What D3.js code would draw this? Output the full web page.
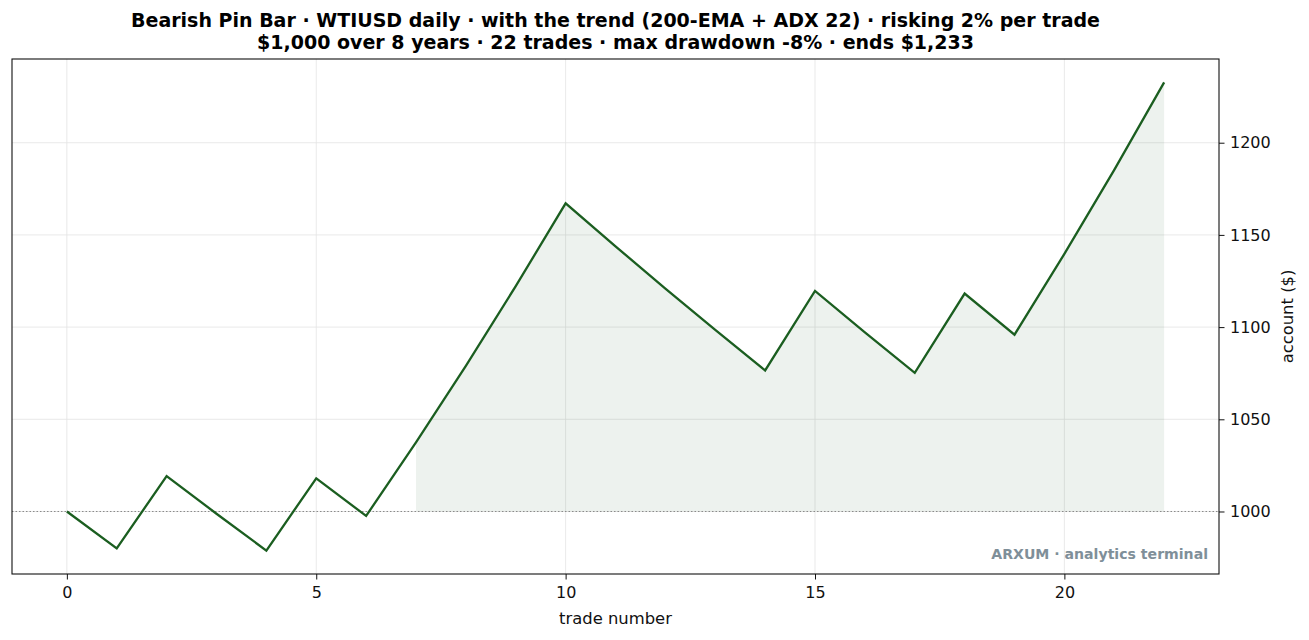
<!DOCTYPE html>
<html>
<head>
<meta charset="utf-8">
<script src="https://cdn.jsdelivr.net/npm/d3@7"></script>
<style>
  html, body { margin: 0; padding: 0; background: #fff; }
  svg { display: block; font-family: "DejaVu Sans", sans-serif; }
</style>
</head>
<body>
<svg id="chart" width="1309" height="640"></svg>
<script>
// account value after each trade
const trades = d3.range(0, 23);
const equity = [
  1000, 980.0, 1019.2, 998.8, 978.8, 1018.0, 997.6, 1037.5, 1079.0, 1122.2,
  1167.1, 1143.8, 1120.9, 1098.5, 1076.5, 1119.6, 1097.2, 1075.2, 1118.2,
  1095.9, 1139.7, 1185.3, 1232.7,
];
const startBalance = 1000;
const xTicks = [0, 5, 10, 15, 20];
const yTicks = [1000, 1050, 1100, 1150, 1200];
const titleLines = [
  'Bearish Pin Bar · WTIUSD daily · with the trend (200-EMA + ADX 22) · risking 2% per trade',
  '$1,000 over 8 years · 22 trades · max drawdown -8% · ends $1,233',
];

const lineColor = '#1b5e20';

// plot box
const margin = { top: 59, right: 90, bottom: 66, left: 12 };
const width = 1309 - margin.left - margin.right;
const height = 640 - margin.top - margin.bottom;

const svg = d3.select('#chart');

// matplotlib style 5% padding
const xPad = (d3.max(trades) - d3.min(trades)) * 0.05;
const [yMin, yMax] = d3.extent(equity);
const yPad = (yMax - yMin) * 0.05;

const x = d3.scaleLinear()
  .domain([d3.min(trades) - xPad, d3.max(trades) + xPad])
  .range([0, width]);
const y = d3.scaleLinear()
  .domain([yMin - yPad, yMax + yPad])
  .range([height, 0]);

const g = svg.append('g')
  .attr('transform', `translate(${margin.left},${margin.top})`);

// grid
g.append('g')
  .selectAll('line')
  .data(xTicks)
  .enter()
  .append('line')
  .attr('x1', (d) => x(d))
  .attr('x2', (d) => x(d))
  .attr('y1', 0)
  .attr('y2', height)
  .attr('stroke', '#e3e3e3')
  .attr('stroke-width', 0.8);

g.append('g')
  .selectAll('line')
  .data(yTicks)
  .enter()
  .append('line')
  .attr('x1', 0)
  .attr('x2', width)
  .attr('y1', (d) => y(d))
  .attr('y2', (d) => y(d))
  .attr('stroke', '#e3e3e3')
  .attr('stroke-width', 0.8);

// fill above start balance, only runs of 2+ points (like fill_between where=)
const points = trades.map((t, i) => ({ t, v: equity[i] }));
const runs = [];
let cur = [];
points.forEach((p) => {
  if (p.v > startBalance) {
    cur.push(p);
  } else {
    if (cur.length > 1) runs.push(cur);
    cur = [];
  }
});
if (cur.length > 1) runs.push(cur);

const area = d3.area()
  .x((d) => x(d.t))
  .y0(y(startBalance))
  .y1((d) => y(d.v));

g.selectAll('.fill')
  .data(runs)
  .enter()
  .append('path')
  .attr('class', 'fill')
  .attr('d', area)
  .attr('fill', lineColor)
  .attr('fill-opacity', 0.08);

// start balance reference
g.append('line')
  .attr('x1', 0)
  .attr('x2', width)
  .attr('y1', y(startBalance))
  .attr('y2', y(startBalance))
  .attr('stroke', '#8a8a8a')
  .attr('stroke-width', 1)
  .attr('stroke-dasharray', '1.5,2');

// equity line
const line = d3.line()
  .x((d) => x(d.t))
  .y((d) => y(d.v));

g.append('path')
  .datum(points)
  .attr('d', line)
  .attr('fill', 'none')
  .attr('stroke', lineColor)
  .attr('stroke-width', 2.3)
  .attr('stroke-linejoin', 'miter');

// axes
const xAxis = g.append('g')
  .attr('transform', `translate(0,${height})`)
  .call(d3.axisBottom(x).tickValues(xTicks).tickSize(5.5).tickPadding(7).tickFormat(d3.format('d')));

const yAxis = g.append('g')
  .attr('transform', `translate(${width},0)`)
  .call(d3.axisRight(y).tickValues(yTicks).tickSize(5.5).tickPadding(5.5).tickFormat(d3.format('d')));

[xAxis, yAxis].forEach((a) => {
  a.select('.domain').remove();
  a.selectAll('text').attr('font-size', 16).attr('fill', '#111').attr('font-family', '"DejaVu Sans", sans-serif');
  a.selectAll('line').attr('stroke', '#111').attr('stroke-width', 1);
});

// frame
g.append('rect')
  .attr('width', width)
  .attr('height', height)
  .attr('fill', 'none')
  .attr('stroke', '#111')
  .attr('stroke-width', 1.1);

// axis labels
svg.append('text')
  .attr('x', margin.left + width / 2)
  .attr('y', 624)
  .attr('text-anchor', 'middle')
  .attr('font-size', 16.4)
  .attr('fill', '#111')
  .text('trade number');

svg.append('text')
  .attr('transform', `translate(1293,${margin.top + height / 2}) rotate(-90)`)
  .attr('text-anchor', 'middle')
  .attr('font-size', 16.4)
  .attr('fill', '#111')
  .text('account ($)');

// title
svg.append('g')
  .selectAll('text')
  .data(titleLines)
  .enter()
  .append('text')
  .attr('x', margin.left + width / 2)
  .attr('y', (d, i) => 27 + i * 21.5)
  .attr('text-anchor', 'middle')
  .attr('font-size', 19)
  .attr('font-weight', 'bold')
  .attr('fill', '#000')
  .text((d) => d);

// watermark
g.append('text')
  .attr('x', width - 11)
  .attr('y', height - 15)
  .attr('text-anchor', 'end')
  .attr('font-size', 14.1)
  .attr('font-weight', 'bold')
  .attr('fill', '#7f8f99')
  .text('ARXUM · analytics terminal');
</script>
</body>
</html>
